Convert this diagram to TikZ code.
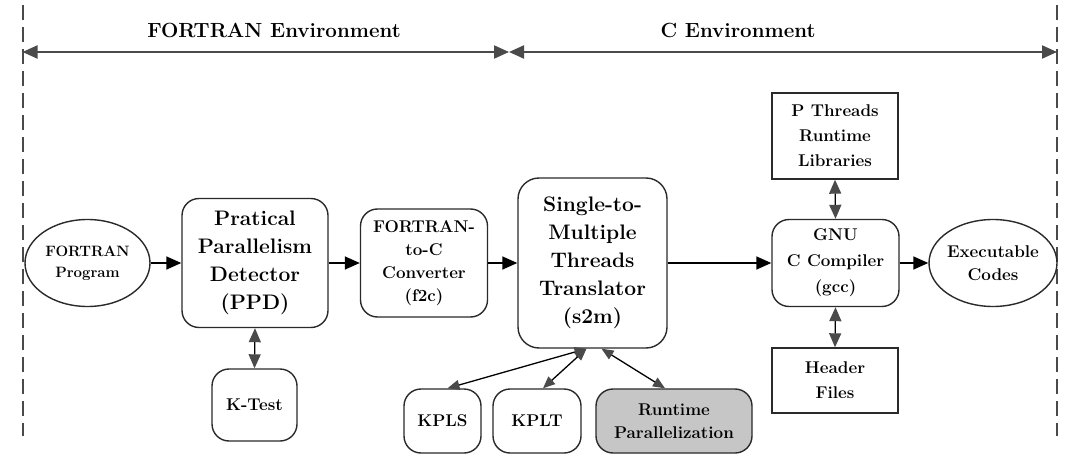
\documentclass[tikz,border=0pt]{standalone}
\usepackage{fontspec}
\usetikzlibrary{arrows.meta,shapes.geometric}
\definecolor{linegray}{HTML}{2A2A2A}
\definecolor{headgray}{HTML}{4A4A4A}
\definecolor{boxgray}{HTML}{C6C6C6}
\newcommand{\fA}{\fontsize{21}{28}\selectfont\bfseries}
\newcommand{\fB}{\fontsize{17}{23}\selectfont\bfseries}
\newcommand{\fC}{\fontsize{17}{25}\selectfont\bfseries}
\newcommand{\fD}{\fontsize{15}{21}\selectfont\bfseries}
\tikzset{
  base/.style={draw=linegray, line width=1.4pt, align=center, inner sep=0pt},
  rbox/.style={base, rounded corners=17pt},
  sbox/.style={base},
  ell/.style={base, ellipse, inner xsep=-4pt},
  flow/.style={line width=1.5pt, -{Triangle[length=15pt,width=13pt]}},
  dbl/.style={line width=1.3pt,
    {Triangle[length=14pt,width=12pt,color=headgray]}-{Triangle[length=14pt,width=12pt,color=headgray]}},
  dbls/.style={line width=1.3pt,
    {Triangle[length=12pt,width=10pt,color=headgray]}-{Triangle[length=12pt,width=10pt,color=headgray]}},
  env/.style={line width=2pt, draw=headgray,
    {Triangle[length=15pt,width=13pt]}-{Triangle[length=15pt,width=13pt]}},
  bound/.style={line width=2pt, draw=headgray, dash pattern=on 15pt off 7pt},
  envlabel/.style={inner sep=0pt, font=\fontsize{20.5}{24}\selectfont\bfseries},
}
\begin{document}
\begin{tikzpicture}[x=1pt,y=-1pt]
\useasboundingbox (0,0) rectangle (1070,465);

% boundaries
\coordinate (lt) at (22.5,5);
\coordinate (lb) at (22.5,436);
\coordinate (rt) at (1057,5);
\coordinate (rb) at (1057,436);
\coordinate (la) at (22.5,52);
\coordinate (ma) at (509,52);
\coordinate (ra) at (1057,52);
\draw[bound] (lt) -- (lb);
\draw[bound] (rt) -- (rb);
\draw[env] (la) -- (ma);
\draw[env] (ma) -- (ra);
\node[envlabel] (fenv) at (274,30) {FORTRAN Environment};
\node[envlabel] (cenv) at (738,30) {C Environment};

% main row
\node[ell, minimum width=125pt, minimum height=87pt, font=\fD] (prog) at (87.5,263) {FORTRAN\\Program};
\node[rbox, minimum width=146pt, minimum height=129pt, font=\fA] (ppd) at (255,263)
  {Pratical\\Parallelism\\Detector\\(PPD)};
\node[rbox, minimum width=127pt, minimum height=108pt, font=\fB] (f2c) at (424,263)
  {FORTRAN-\\to-C\\Converter\\(f2c)};
\node[rbox, minimum width=149pt, minimum height=170pt, font=\fA,
  rounded corners=21pt] (s2m) at (592.5,263)
  {Single-to-\\Multiple\\Threads\\Translator\\(s2m)};
\node[rbox, minimum width=127pt, minimum height=87pt,
  font=\fontsize{17}{26}\selectfont\bfseries] (gcc) at (835.5,263)
  {GNU\\C Compiler\\(gcc)};
\node[ell, minimum width=128pt, minimum height=87pt, font=\fB] (exe) at (993,263) {Executable\\Codes};

% side boxes
\node[sbox, minimum width=126pt, minimum height=86pt, font=\fC] (pth) at (835,136)
  {P Threads\\Runtime\\Libraries};
\node[sbox, minimum width=126pt, minimum height=65pt, font=\fC] (hdr) at (835,380.5)
  {Header\\Files};
\node[rbox, minimum width=85pt, minimum height=72pt, font=\fB] (kt) at (254.5,405) {K-Test};
\node[rbox, minimum width=77pt, minimum height=64pt, font=\fB] (kpls) at (442.5,421) {KPLS};
\node[rbox, minimum width=88pt, minimum height=64pt, font=\fB] (kplt) at (537,421) {KPLT};
\node[rbox, fill=boxgray, minimum width=156pt, minimum height=64pt, font=\fB] (rtp) at (674,421)
  {Runtime\\Parallelization};

% connectors
\draw[flow] (prog) -- (ppd);
\draw[flow] (ppd) -- (f2c);
\draw[flow] (f2c) -- (s2m);
\draw[flow] (s2m) -- (gcc);
\draw[flow] (gcc) -- (exe);
\draw[dbl] (ppd.south) -- (kt.north);
\draw[dbl] (pth.south) -- (gcc.north);
\draw[dbl] (gcc.south) -- (hdr.north);
\draw[dbls] ([xshift=-6pt]s2m.south) -- ([xshift=5pt]kpls.north);
\draw[dbls] ([xshift=-6pt]s2m.south) -- ([xshift=6pt]kplt.north);
\draw[dbls] ([xshift=9pt]s2m.south) -- ([xshift=-9pt]rtp.north);
\end{tikzpicture}
\end{document}
